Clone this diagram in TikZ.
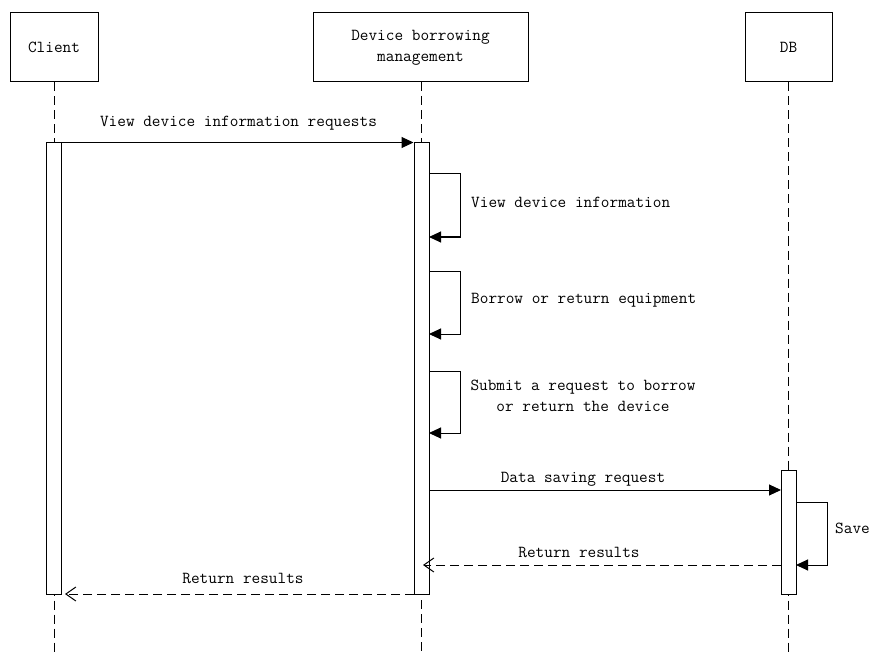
\documentclass[tikz,border=0pt]{standalone}
\usepackage{fontspec}
\usetikzlibrary{arrows.meta}
\begin{document}
\begin{tikzpicture}[x=1pt,y=-1pt,
  font=\ttfamily\fontsize{16.8}{21}\selectfont,
  actor/.style={draw,line width=1pt,minimum height=69pt,align=center,inner sep=0pt},
  bar/.style={draw,line width=1pt,fill=white,minimum width=15pt,inner sep=0pt},
  life/.style={dashed,dash pattern=on 9pt off 5pt,line width=1pt},
  msg/.style={line width=1pt,-{Triangle[length=12pt,width=11pt]}},
  ret/.style={line width=1pt,dashed,dash pattern=on 9pt off 5pt,-{Straight Barb[length=10pt,width=14pt,line width=1pt]}},
  lbl/.style={inner sep=1pt}]
\useasboundingbox (0,0) rectangle (877,652);
% actors
\node[actor,minimum width=88pt] (client) at (54,47.5) {Client};
\node[actor,minimum width=215pt] (dev) at (420.5,47.5) {Device borrowing\\management};
\node[actor,minimum width=87pt] (db) at (788.5,47.5) {DB};
% lifelines
\coordinate (cend) at (54,652);
\coordinate (dend) at (421,652);
\coordinate (bend) at (788.5,652);
\draw[life] (client.south) -- (cend);
\draw[life] (421,82) -- (dend);
\draw[life] (db.south) -- (bend);
% activation bars
\node[bar,minimum height=451pt] (cbar) at (53.5,368.5) {};
\node[bar,minimum height=451pt] (dbar) at (421.5,368.5) {};
\node[bar,minimum height=124pt] (bbar) at (788.5,532) {};
% message 1
\draw[msg] (cbar.north east) -- (dbar.north west);
\node[lbl] (m1) at (238.5,123) {View device information requests};
% self messages on device
\coordinate (s1a) at (429,174); \coordinate (s1b) at (460,174);
\coordinate (s1c) at (460,237); \coordinate (s1d) at (429,237);
\draw[msg] (s1a) -- (s1b) -- (s1c) -- (s1d);
\node[lbl,anchor=west] (m2) at (470,202) {View device information};
\coordinate (s2a) at (429,271); \coordinate (s2b) at (460,271);
\coordinate (s2c) at (460,334); \coordinate (s2d) at (429,334);
\draw[msg] (s2a) -- (s2b) -- (s2c) -- (s2d);
\node[lbl,anchor=west] (m3) at (470,300) {Borrow or return equipment};
\coordinate (s3a) at (429,371); \coordinate (s3b) at (460,371);
\coordinate (s3c) at (460,433); \coordinate (s3d) at (429,433);
\draw[msg] (s3a) -- (s3b) -- (s3c) -- (s3d);
\node[lbl,align=center] (m4) at (583,395.5) {Submit a request to borrow\\or return the device};
% data saving request
\coordinate (ds1) at (429,490); \coordinate (ds2) at (781,490);
\draw[msg] (ds1) -- (ds2);
\node[lbl] (m5) at (583,479) {Data saving request};
% save self message
\coordinate (sv1) at (796,502); \coordinate (sv2) at (827,502);
\coordinate (sv3) at (827,565); \coordinate (sv4) at (796,565);
\draw[msg] (sv1) -- (sv2) -- (sv3) -- (sv4);
\node[lbl,anchor=west] (m6) at (834,528) {Save};
% return results db->dev
\coordinate (r1a) at (781,565); \coordinate (r1b) at (423,565);
\draw[ret] (r1a) -- (r1b);
\node[lbl] (m7) at (579,552) {Return results};
% return results dev->client
\coordinate (r2a) at (414,594); \coordinate (r2b) at (65,594);
\draw[ret] (r2a) -- (r2b);
\node[lbl] (m8) at (243,578) {Return results};
\end{tikzpicture}
\end{document}
